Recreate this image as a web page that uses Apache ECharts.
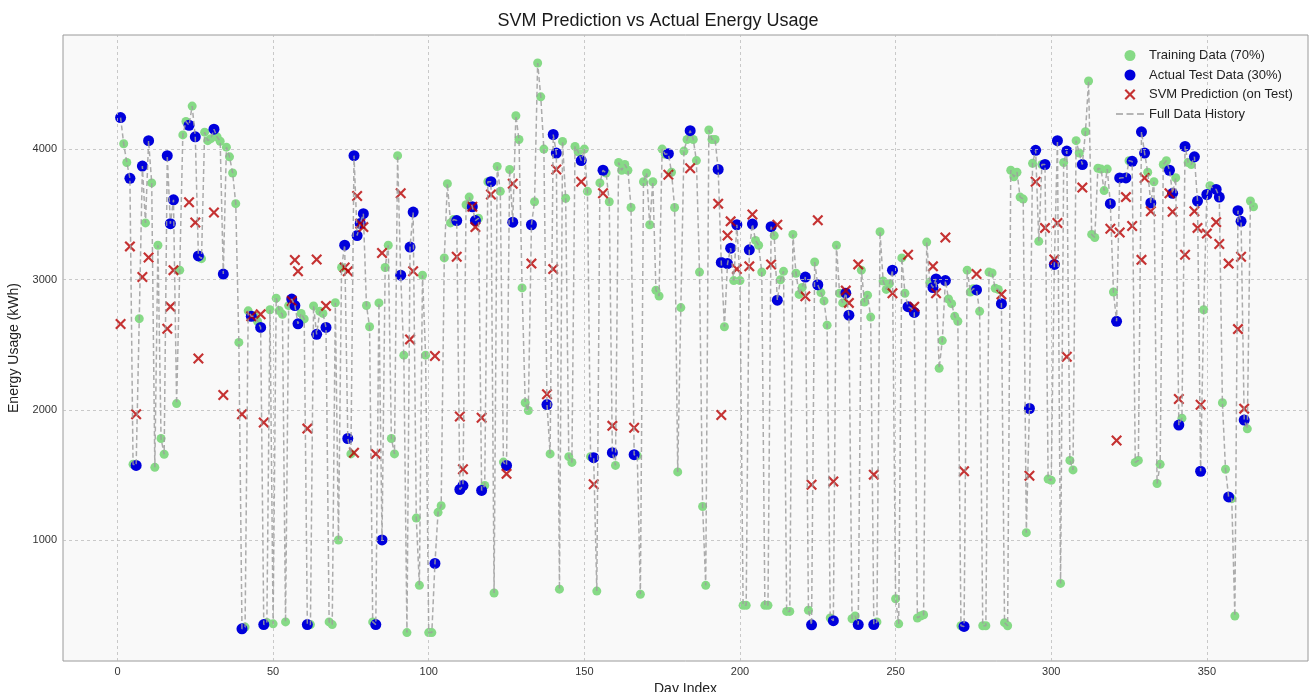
<!DOCTYPE html>
<html><head><meta charset="utf-8">
<script src="https://cdn.jsdelivr.net/npm/echarts@6/dist/echarts.min.js"></script>
<style>html,body{margin:0;padding:0;background:#fff}#c{width:1316px;height:692px}</style>
</head><body><div id="c"></div>
<script>
// Daily energy usage (kWh), day 1 .. 365
const energyUsage = [
4242,4041,3897,3776,1584,1575,2700,3870,3434,4065,3741,1560,3263,1781,1660,3950,3428,3611,2049,3072,
4109,4212,4183,4330,4094,3181,3160,4130,4065,4080,4153,4094,4060,3042,4015,3941,3817,3582,2518,322,
335,2760,2718,2720,2680,2633,354,370,2768,360,2857,2762,2733,375,2800,2850,2800,2660,2740,2698,
354,354,2798,2580,2756,2740,2633,375,354,2822,1003,3092,3263,1781,1663,3950,3337,3430,3505,2801,
2638,375,354,2821,1003,3092,3263,1781,1663,3950,3033,2420,293,3249,3517,1171,655,3033,2420,293,
293,823,1215,1265,3166,3735,3434,3460,3452,1390,1420,3573,3632,3558,3452,3470,1383,1421,3750,3750,
596,3867,3676,1600,1575,3844,3440,4256,4074,2936,2055,1996,3420,3596,4660,4401,4000,2041,1663,4112,
3970,626,4059,3623,1642,1598,4021,3980,3912,4000,3676,1642,1634,611,3741,3838,3817,3596,1672,1575,
3897,3838,3882,3838,3552,1657,1650,587,3750,3817,3420,3750,2918,2874,4000,3960,3965,3823,3552,1525,
2785,3985,4074,4141,4074,3912,3057,1260,655,4147,4074,4074,3844,3131,2638,3122,3240,2992,3420,2992,
502,502,3228,3425,3300,3263,3057,502,502,3405,3337,2842,2998,3063,455,455,3346,3048,2886,2939,
3019,464,352,3134,2960,2900,2836,2650,405,384,3263,2895,2821,2895,2727,399,420,354,3072,2827,
2880,2712,354,375,3366,2989,2924,2968,3072,552,360,3166,2895,2792,2780,2748,405,420,430,3287,
2980,2939,3004,2320,2532,2992,2851,2815,2718,2680,345,340,3072,2904,2930,2920,2756,345,345,3057,
3051,2933,2924,2815,369,345,3838,3788,3823,3632,3617,1059,2011,3891,3991,3293,3882,3882,1470,1460,
3116,4065,670,3897,3985,1613,1540,4065,3970,3882,4133,4522,3346,3322,3853,3847,3682,3847,3582,2904,
2680,3779,3780,3779,3911,3906,1598,1613,4133,3970,3823,3587,3750,1436,1583,3882,3911,3838,3661,3780,
1884,1937,4021,3897,3882,3941,3602,1530,2768,3652,3720,3700,3691,3632,2055,1545,1333,1320,420,3528,
3446,1922,1855,3602,3558
];
// Days held out as the test set (30%)
const testDays = [
1,4,6,8,10,16,17,18,23,25,26,31,34,40,43,46,47,56,57,58,61,64,67,73,74,76,77,78,79,83,
85,91,94,95,102,109,110,111,114,115,117,120,125,127,133,138,140,141,149,153,156,159,166,177,184,
193,194,196,197,199,203,204,210,212,221,223,225,230,234,235,238,243,249,254,256,262,263,266,272,276,
284,293,295,298,301,302,305,310,319,321,322,324,326,329,330,332,338,339,341,343,346,347,348,350,353,
354,357,360,361,362
];
// SVM predictions for the test days (same order)
const svmPredictions = [
2659,3254,1967,3019,3169,2623,2792,3072,3593,3437,2394,3514,2114,1967,2718,2733,1904,2836,3150,3063,
1857,3154,2798,3092,3063,1672,3640,3428,3402,1663,3204,3661,2541,3063,2414,3175,1950,1545,3558,3402,
1940,3652,1510,3735,3122,2120,3080,3844,3750,1430,3661,1878,1863,3803,3853,3582,1961,3337,3446,3080,
3101,3499,3116,3420,2871,1427,3455,1451,2915,2821,3116,1504,2895,3190,2792,3101,2895,3322,1530,3042,
2886,1495,3750,3396,3154,3434,2408,3705,3390,1766,3360,3632,3410,3151,3779,3523,3661,3520,2084,3190,
3523,3396,2040,3352,3440,3272,3122,2620,3175,2010
];
const xTickValues = [0,50,100,150,200,250,300,350];
const yTickValues = [1000,2000,3000,4000];

const testSet = new Set(testDays);
const history = energyUsage.map((v, i) => [i + 1, v]);
const training = history.filter(p => !testSet.has(p[0]));
const actualTest = testDays.map(d => [d, energyUsage[d - 1]]);
const predicted = testDays.map((d, i) => [d, svmPredictions[i]]);

const FONT = 'Liberation Sans, Arial, sans-serif';
const xPath = 'path://M0,1.4 L1.4,0 L5,3.6 L8.6,0 L10,1.4 L6.4,5 L10,8.6 L8.6,10 L5,6.4 L1.4,10 L0,8.6 L3.6,5 Z';
const dashIcon = 'path://M0,4.3 L7,4.3 L7,5.7 L0,5.7 Z M10.5,4.3 L17.5,4.3 L17.5,5.7 L10.5,5.7 Z M21,4.3 L28,4.3 L28,5.7 L21,5.7 Z M0,0 L0.01,0 L0.01,10 L0,10 Z';
const gridLineStyle = {color: '#bdbdbd', type: [3, 3], width: 0.8};
const isMult = (v, m) => Math.abs(v - Math.round(v / m) * m) < 1e-6;

const chart = echarts.init(document.getElementById('c'), null, {renderer: 'canvas'});
chart.setOption({
  animation: false,
  backgroundColor: '#ffffff',
  textStyle: {fontFamily: FONT},
  title: {
    text: 'SVM Prediction vs Actual Energy Usage',
    left: 'center', top: 7,
    textStyle: {fontSize: 18, fontWeight: 'normal', color: '#1a1a1a', fontFamily: FONT}
  },
  legend: {
    orient: 'vertical', left: 1111, top: 44,
    itemWidth: 28, itemHeight: 11, itemGap: 6.5,
    textStyle: {fontSize: 13, color: '#222', fontFamily: FONT},
    data: [
      {name: 'Training Data (70%)', icon: 'circle'},
      {name: 'Actual Test Data (30%)', icon: 'circle'},
      {name: 'SVM Prediction (on Test)', icon: xPath},
      {name: 'Full Data History', icon: dashIcon, itemStyle: {color: '#9e9e9e'}}
    ]
  },
  grid: {
    left: 63, right: 8, top: 35, bottom: 31,
    outerBoundsMode: 'none', containLabel: false,
    show: true, backgroundColor: '#f9f9f9', borderColor: '#9a9a9a', borderWidth: 1
  },
  xAxis: {
    type: 'value', min: -17.5, max: 382.5, interval: 2.5,
    name: 'Day Index', nameLocation: 'middle', nameGap: 18,
    nameTextStyle: {fontSize: 14, color: '#222', fontFamily: FONT},
    axisLine: {show: false}, axisTick: {show: false}, splitLine: {show: false},
    axisLabel: {
      fontSize: 11, color: '#333', margin: 5, fontFamily: FONT,
      formatter: v => (isMult(v, 50) ? String(Math.round(v)) : '')
    }
  },
  yAxis: {
    type: 'value', min: 75, max: 4875, interval: 25,
    name: 'Energy Usage (kWh)', nameLocation: 'middle', nameGap: 36,
    nameTextStyle: {fontSize: 14, color: '#222', fontFamily: FONT},
    axisLine: {show: false}, axisTick: {show: false}, splitLine: {show: false},
    axisLabel: {
      fontSize: 11, color: '#333', margin: 6, fontFamily: FONT,
      formatter: v => (isMult(v, 1000) ? String(Math.round(v)) : '')
    }
  },
  series: [
    {
      name: 'gridlines', type: 'line', data: [], z: 0, silent: true,
      markLine: {
        silent: true, symbol: 'none', animation: false,
        label: {show: false}, lineStyle: gridLineStyle,
        data: xTickValues.map(v => ({xAxis: v})).concat(yTickValues.map(v => ({yAxis: v})))
      }
    },
    {
      name: 'Training Data (70%)', type: 'scatter', data: training, z: 3,
      symbol: 'circle', symbolSize: 9,
      itemStyle: {color: '#86da86', opacity: 1}
    },
    {
      name: 'Actual Test Data (30%)', type: 'scatter', data: actualTest, z: 4,
      symbol: 'circle', symbolSize: 11,
      itemStyle: {color: '#0000dc', opacity: 1}
    },
    {
      name: 'SVM Prediction (on Test)', type: 'scatter', data: predicted, z: 5,
      symbol: xPath, symbolSize: 11,
      itemStyle: {color: '#b80000'}
    },
    {
      name: 'Full Data History', type: 'line', data: history, z: 6,
      symbol: 'none', showSymbol: false,
      lineStyle: {color: '#9e9e9e', width: 1.5, type: [5, 3], opacity: 0.85},
      itemStyle: {color: '#9e9e9e'}
    }
  ]
});
</script>
</body></html>
